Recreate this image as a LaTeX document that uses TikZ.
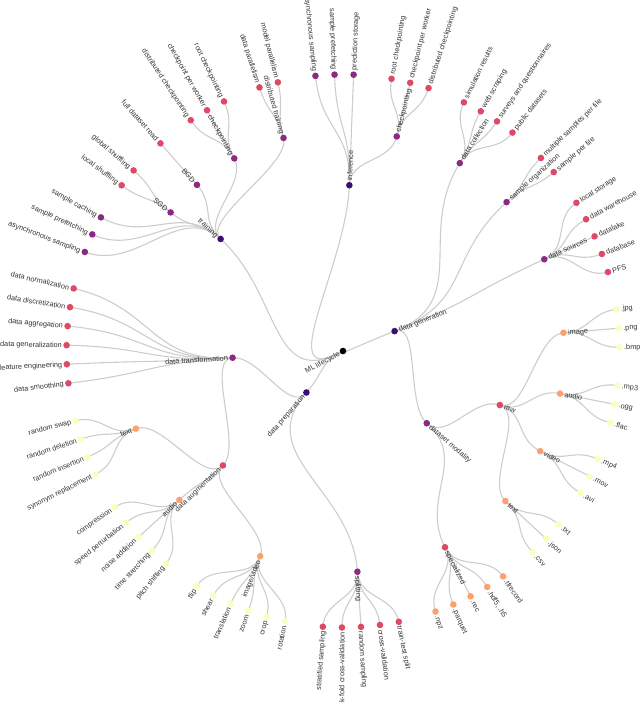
\documentclass[tikz,border=0pt]{standalone}
\usepackage{fontspec}
\setmainfont{Liberation Sans}
\pgfdeclarelayer{bg}
\pgfsetlayers{bg,main}
\definecolor{d0}{HTML}{000004}
\definecolor{d1}{HTML}{3B0F70}
\definecolor{d2}{HTML}{8C2981}
\definecolor{d3}{HTML}{DE4968}
\definecolor{d4}{HTML}{FE9F6D}
\definecolor{d5}{HTML}{FCFDBF}
\definecolor{linkc}{HTML}{CDCDCD}
\definecolor{txtc}{HTML}{333333}
\tikzset{
  dot/.style={circle, inner sep=0pt, minimum size=6.6pt, draw=none},
  lbl/.style={font=\fontsize{7.3}{8.8}\selectfont, text=txtc, inner sep=0pt},
  link/.style={draw=linkc, line width=1.1pt}
}
% node: name, leaf index k, radial level, depth, label
\newcommand\TN[5]{%
  \pgfmathsetmacro\tnA{8.68+3.95604*(#2)}%
  \pgfmathsetmacro\tnR{55.3*(#3)}%
  \pgfmathsetmacro\tnRL{\tnR+4.5}%
  \expandafter\xdef\csname tnA@#1\endcsname{\tnA}%
  \expandafter\xdef\csname tnR@#1\endcsname{\tnR}%
  \node[dot, fill=d#4] (#1) at (\tnA:\tnR) {};%
  \pgfmathsetmacro\tnC{cos(\tnA)}%
  \ifdim\tnC pt<0pt
    \pgfmathsetmacro\tnRot{\tnA-180}%
    \node[lbl, anchor=mid east, rotate=\tnRot] (#1-l) at (\tnA:\tnRL) {#5};%
  \else
    \node[lbl, anchor=mid west, rotate=\tnA] (#1-l) at (\tnA:\tnRL) {#5};%
  \fi
}
% link: parent, child (radial bump curve)
\newcommand\TL[2]{%
  \edef\tlAp{\csname tnA@#1\endcsname}%
  \edef\tlAc{\csname tnA@#2\endcsname}%
  \pgfmathsetmacro\tlM{(\csname tnR@#1\endcsname+\csname tnR@#2\endcsname)/2}%
  \begin{pgfonlayer}{bg}%
  \draw[link] (#1.center) .. controls (\tlAp:\tlM) and (\tlAc:\tlM) .. (#2.center);%
  \end{pgfonlayer}%
}
\begin{document}
\begin{tikzpicture}[x=1pt,y=1pt]
\useasboundingbox (-343,-351) rectangle (297,351);
% root and depth 1
\TN{root}{50.5729}{0}{0}{ML lifecycle}
\TN{train}{32.5714}{3}{1}{training}
\TN{infer}{20}{3}{1}{inference}
\TN{dgen}{3.125}{1}{1}{data generation}
\TN{dprep}{55.5952}{1}{1}{data preparation}
% training
\TN{tcache}{36}{5}{2}{sample caching}
\TN{tpref}{37}{5}{2}{sample prefetching}
\TN{tasync}{38}{5}{2}{asynchronous sampling}
\TN{sgd}{33.5}{4}{2}{SGD}
\TN{bgd}{31}{4}{2}{BGD}
\TN{tckpt}{28}{4}{2}{checkpointing}
\TN{dtrain}{24.5}{4}{2}{distributed training}
\TN{lshuf}{34}{5}{3}{local shuffling}
\TN{gshuf}{33}{5}{3}{global shuffling}
\TN{fullread}{31}{5}{3}{full dataset read}
\TN{tdck}{29}{5}{3}{distributed checkpointing}
\TN{tcpw}{28}{5}{3}{checkpoint per worker}
\TN{trck}{27}{5}{3}{root checkpointing}
\TN{dpar}{25}{5}{3}{data parallelism}
\TN{mpar}{24}{5}{3}{model parallelism}
% inference
\TN{iasync}{22}{5}{2}{asynchronous sampling}
\TN{ipref}{21}{5}{2}{sample prefetching}
\TN{ipred}{20}{5}{2}{prediction storage}
\TN{ickpt}{17}{4}{2}{checkpointing}
\TN{irck}{18}{5}{3}{root checkpointing}
\TN{icpw}{17}{5}{3}{checkpoint per worker}
\TN{idck}{16}{5}{3}{distributed checkpointing}
% data generation
\TN{dcoll}{12.5}{4}{2}{data collection}
\TN{sorg}{8.5}{4}{2}{sample organization}
\TN{dsrc}{4}{4}{2}{data sources}
\TN{dmod}{-12.5}{2}{2}{dataset modality}
\TN{sim}{14}{5}{3}{simulation results}
\TN{web}{13}{5}{3}{web scraping}
\TN{surv}{12}{5}{3}{surveys and questionnaires}
\TN{pub}{11}{5}{3}{public datasets}
\TN{msf}{9}{5}{3}{multiple samples per file}
\TN{spf}{8}{5}{3}{sample per file}
\TN{lsto}{6}{5}{3}{local storage}
\TN{dwh}{5}{5}{3}{data warehouse}
\TN{dlake}{4}{5}{3}{datalake}
\TN{dbase}{3}{5}{3}{database}
\TN{pfs}{2}{5}{3}{PFS}
\TN{raw}{-7}{3}{3}{raw}
\TN{spec}{-18}{4}{3}{specialized}
\TN{img}{-1}{4}{4}{image}
\TN{aud}{-5}{4}{4}{audio}
\TN{vid}{-9}{4}{4}{video}
\TN{txt}{-13}{4}{4}{text}
\TN{tfr}{-16}{5}{4}{.tfrecord}
\TN{hdf}{-17}{5}{4}{.hdf5, .h5}
\TN{rec}{-18}{5}{4}{.rec}
\TN{parq}{-19}{5}{4}{.parquet}
\TN{npz}{-20}{5}{4}{.npz}
\TN{jpg}{0}{5}{5}{.jpg}
\TN{png}{-1}{5}{5}{.png}
\TN{bmp}{-2}{5}{5}{.bmp}
\TN{mp3}{-4}{5}{5}{.mp3}
\TN{ogg}{-5}{5}{5}{.ogg}
\TN{flac}{-6}{5}{5}{.flac}
\TN{mp4}{-8}{5}{5}{.mp4}
\TN{mov}{-9}{5}{5}{.mov}
\TN{avi}{-10}{5}{5}{.avi}
\TN{txtf}{-12}{5}{5}{.txt}
\TN{json}{-13}{5}{5}{.json}
\TN{csv}{-14}{5}{5}{.csv}
% data preparation
\TN{dtrans}{44.1905}{2}{2}{data transformation}
\TN{split}{67}{4}{2}{splitting}
\TN{dnorm}{40}{5}{3}{data normalization}
\TN{ddisc}{41}{5}{3}{data discretization}
\TN{dagg}{42}{5}{3}{data aggregation}
\TN{dgenz}{43}{5}{3}{data generalization}
\TN{feat}{44}{5}{3}{feature engineering}
\TN{dsmooth}{45}{5}{3}{data smoothing}
\TN{daug}{54.3333}{3}{3}{data augmentation}
\TN{strat}{65}{5}{3}{stratified sampling}
\TN{kfold}{66}{5}{3}{k-fold cross-validation}
\TN{rsamp}{67}{5}{3}{random sampling}
\TN{cval}{68}{5}{3}{cross-validation}
\TN{tts}{69}{5}{3}{train-test split}
\TN{atext}{48.5}{4}{4}{text}
\TN{aaud}{54}{4}{4}{audio}
\TN{aimg}{60.5}{4}{4}{image/video}
\TN{rswap}{47}{5}{5}{random swap}
\TN{rdel}{48}{5}{5}{random deletion}
\TN{rins}{49}{5}{5}{random insertion}
\TN{syn}{50}{5}{5}{synonym replacement}
\TN{comp}{52}{5}{5}{compression}
\TN{speed}{53}{5}{5}{speed perturbation}
\TN{noise}{54}{5}{5}{noise addition}
\TN{tstr}{55}{5}{5}{time stretching}
\TN{pitch}{56}{5}{5}{pitch shifting}
\TN{flip}{58}{5}{5}{flip}
\TN{shear}{59}{5}{5}{shear}
\TN{transl}{60}{5}{5}{translation}
\TN{zoom}{61}{5}{5}{zoom}
\TN{crop}{62}{5}{5}{crop}
\TN{rot}{63}{5}{5}{rotation}
% links
\TL{root}{train}\TL{root}{infer}\TL{root}{dgen}\TL{root}{dprep}
\TL{train}{tcache}\TL{train}{tpref}\TL{train}{tasync}\TL{train}{sgd}\TL{train}{bgd}\TL{train}{tckpt}\TL{train}{dtrain}
\TL{sgd}{lshuf}\TL{sgd}{gshuf}\TL{bgd}{fullread}
\TL{tckpt}{tdck}\TL{tckpt}{tcpw}\TL{tckpt}{trck}
\TL{dtrain}{dpar}\TL{dtrain}{mpar}
\TL{infer}{iasync}\TL{infer}{ipref}\TL{infer}{ipred}\TL{infer}{ickpt}
\TL{ickpt}{irck}\TL{ickpt}{icpw}\TL{ickpt}{idck}
\TL{dgen}{dcoll}\TL{dgen}{sorg}\TL{dgen}{dsrc}\TL{dgen}{dmod}
\TL{dcoll}{sim}\TL{dcoll}{web}\TL{dcoll}{surv}\TL{dcoll}{pub}
\TL{sorg}{msf}\TL{sorg}{spf}
\TL{dsrc}{lsto}\TL{dsrc}{dwh}\TL{dsrc}{dlake}\TL{dsrc}{dbase}\TL{dsrc}{pfs}
\TL{dmod}{raw}\TL{dmod}{spec}
\TL{raw}{img}\TL{raw}{aud}\TL{raw}{vid}\TL{raw}{txt}
\TL{spec}{tfr}\TL{spec}{hdf}\TL{spec}{rec}\TL{spec}{parq}\TL{spec}{npz}
\TL{img}{jpg}\TL{img}{png}\TL{img}{bmp}
\TL{aud}{mp3}\TL{aud}{ogg}\TL{aud}{flac}
\TL{vid}{mp4}\TL{vid}{mov}\TL{vid}{avi}
\TL{txt}{txtf}\TL{txt}{json}\TL{txt}{csv}
\TL{dprep}{dtrans}\TL{dprep}{split}
\TL{dtrans}{dnorm}\TL{dtrans}{ddisc}\TL{dtrans}{dagg}\TL{dtrans}{dgenz}\TL{dtrans}{feat}\TL{dtrans}{dsmooth}\TL{dtrans}{daug}
\TL{split}{strat}\TL{split}{kfold}\TL{split}{rsamp}\TL{split}{cval}\TL{split}{tts}
\TL{daug}{atext}\TL{daug}{aaud}\TL{daug}{aimg}
\TL{atext}{rswap}\TL{atext}{rdel}\TL{atext}{rins}\TL{atext}{syn}
\TL{aaud}{comp}\TL{aaud}{speed}\TL{aaud}{noise}\TL{aaud}{tstr}\TL{aaud}{pitch}
\TL{aimg}{flip}\TL{aimg}{shear}\TL{aimg}{transl}\TL{aimg}{zoom}\TL{aimg}{crop}\TL{aimg}{rot}
\end{tikzpicture}
\end{document}
